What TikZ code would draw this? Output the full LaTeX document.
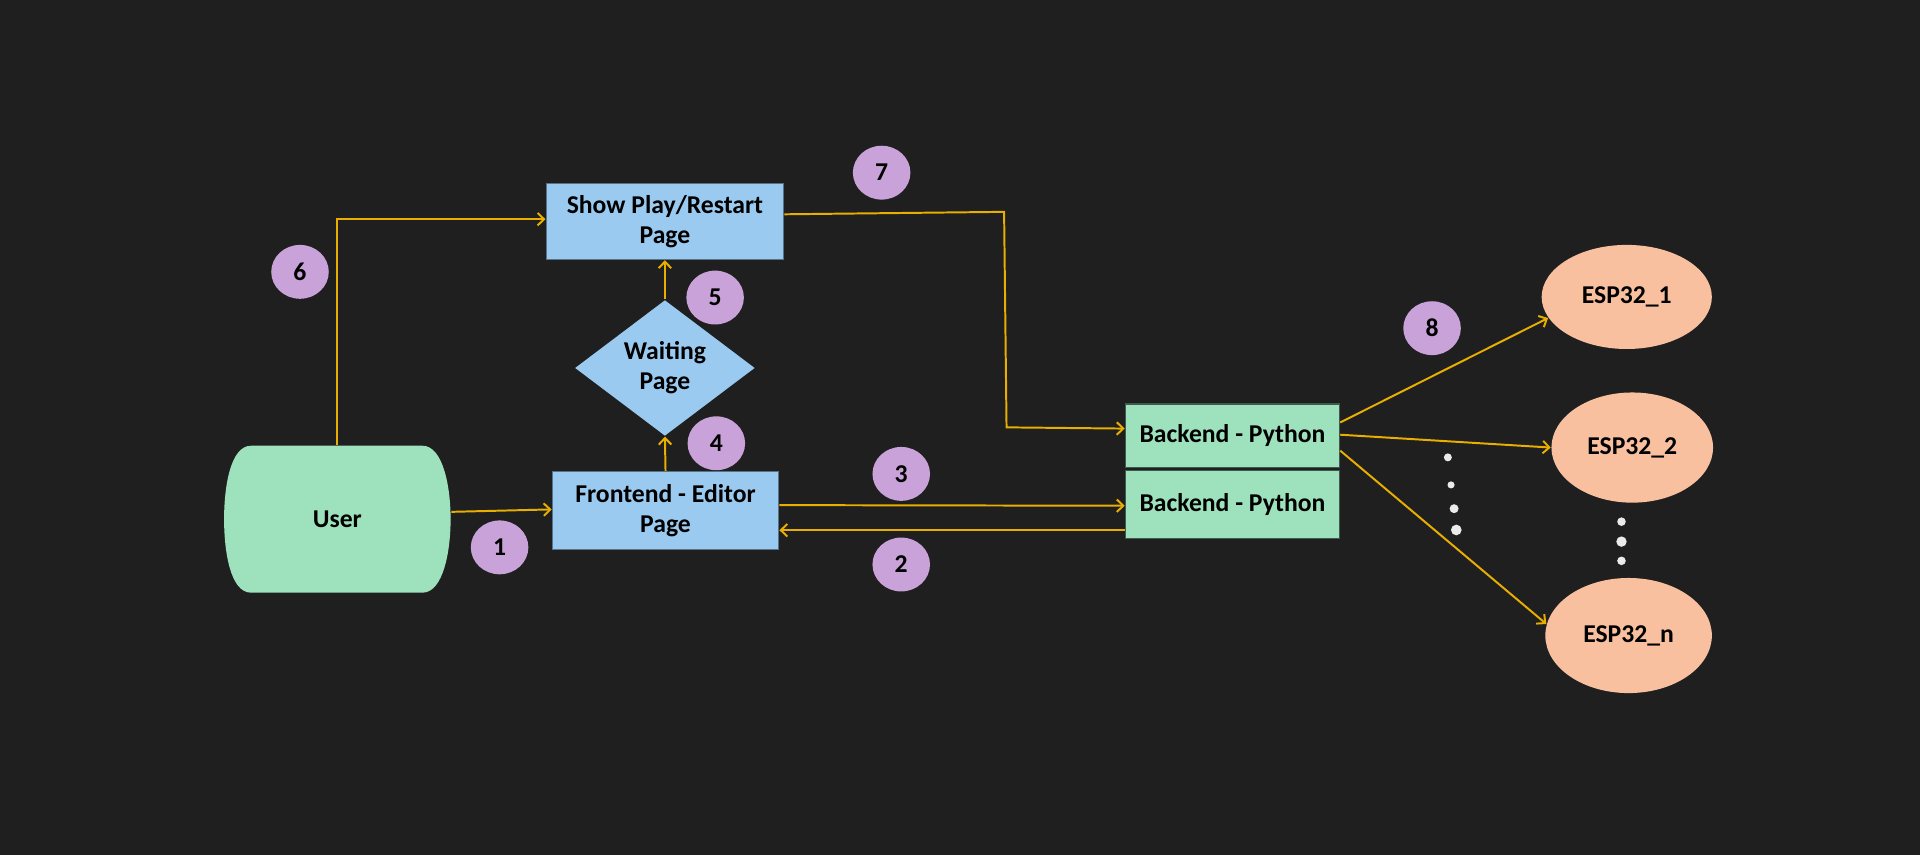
\documentclass[tikz,border=0pt]{standalone}
\usepackage{fontspec}
\setmainfont{Carlito}
\usetikzlibrary{shapes.geometric,arrows.meta}
\newlength\px
\setlength\px{0.012245cm}
\definecolor{bgc}{HTML}{1F1F1F}
\definecolor{bluebox}{HTML}{9ACAEF}
\definecolor{blueedge}{HTML}{56738A}
\definecolor{greenbox}{HTML}{9DE1BD}
\definecolor{greenedge}{HTML}{3E5A4C}
\definecolor{peach}{HTML}{F8C09F}
\definecolor{badgec}{HTML}{C8A2D8}
\definecolor{wire}{HTML}{E8AE00}
\tikzset{
  lbl/.style={font=\bfseries\fontsize{7.3}{8.6}\selectfont, text=black, align=center, inner sep=0pt},
  bluerect/.style={lbl, rectangle, fill=bluebox, draw=blueedge, line width=1\px},
  greenrect/.style={lbl, rectangle, fill=greenbox, draw=greenedge, line width=1\px},
  waitshape/.style={lbl, diamond, fill=bluebox, minimum width=147\px, minimum height=111\px},
  espshape/.style={lbl, ellipse, fill=peach},
  badge/.style={lbl, ellipse, fill=badgec, minimum width=47\px, minimum height=44\px},
  wirearrow/.style={draw=wire, line width=0.56pt, -{Straight Barb[length=0.065cm,width=0.125cm]}},
  dot/.style={circle, fill=white!92!black, inner sep=0pt}
}
\begin{document}
\begin{tikzpicture}[x=0.012245cm, y=-0.012245cm]
\fill[bgc] (0,0) rectangle (1568,698.2);
\useasboundingbox (0,0) rectangle (1568,698.2);

% User shape
\fill[greenbox] (205,364) -- (345,364) .. controls (362,364) and (368,398) .. (368,424)
  .. controls (368,450) and (362,484) .. (345,484) -- (205,484)
  .. controls (188,484) and (183,450) .. (183,424)
  .. controls (183,398) and (188,364) .. (205,364) -- cycle;
\node[lbl, minimum width=185\px, minimum height=120\px] (user) at (275.5,424) {User};

% Blue boxes
\node[bluerect, minimum width=194\px, minimum height=62\px] (show) at (543,181) {Show Play/Restart\\Page};
\node[waitshape] (wait) at (543,300.5) {Waiting\\Page};
\node[bluerect, minimum width=185\px, minimum height=64\px] (front) at (543.5,417) {Frontend - Editor\\Page};

% Backend boxes
\node[greenrect, minimum width=175\px, minimum height=52\px] (back1) at (1006.5,356) {Backend - Python};
\node[greenrect, minimum width=175\px, minimum height=56\px] (back2) at (1006.5,412) {Backend - Python};

% ESP32 ellipses
\node[espshape, minimum width=139\px, minimum height=85\px] (esp1) at (1328.5,242.5) {ESP32\_1};
\node[espshape, minimum width=132\px, minimum height=90\px] (esp2) at (1333,365.5) {ESP32\_2};
\node[espshape, minimum width=136\px, minimum height=94\px] (espn) at (1330,519) {ESP32\_n};

% badges
\node[badge] (b1) at (408,447) {1};
\node[badge] (b2) at (736,461) {2};
\node[badge] (b3) at (736,387) {3};
\node[badge] (b4) at (585,362) {4};
\node[badge] (b5) at (584,243) {5};
\node[badge] (b6) at (245,222) {6};
\node[badge] (b7) at (720,141) {7};
\node[badge] (b8) at (1169.5,268) {8};

% dots
\node[dot, minimum size=6.5\px] (d1) at (1182.4,373.5) {};
\node[dot, minimum size=5.8\px] (d2) at (1185,396) {};
\node[dot, minimum size=7.3\px] (d3) at (1187.5,415.4) {};
\node[dot, minimum size=8.7\px] (d4) at (1189.3,432.8) {};
\node[dot, minimum size=7\px] (d5) at (1324.2,426) {};
\node[dot, minimum size=8.5\px] (d6) at (1324.2,442.3) {};
\node[dot, minimum size=7\px] (d7) at (1324.2,458) {};

% connectors
\coordinate (c7a) at (820,173);
\coordinate (c7b) at (822,349);

\draw[wirearrow] ([yshift=6\px]user.east) -- ([yshift=1\px]front.west);
\draw[wirearrow] (user.north) |- ([yshift=2\px]show.west);
\draw[wirearrow] (front.north) -- (wait.south);
\draw[wirearrow] (wait.north) -- (show.south);
\draw[wirearrow] ([yshift=6\px]show.east) -- (c7a) -- (c7b) -- ([yshift=6\px]back1.west);
\draw[wirearrow] ([yshift=4.5\px]front.east) -- ([yshift=-1\px]back2.west);
\draw[wirearrow] ([yshift=-21\px]back2.west) -- ([yshift=-16\px]front.east);
\draw[wirearrow] ([yshift=11\px]back1.east) -- (esp1.195.5);
\draw[wirearrow] ([yshift=1\px]back1.east) -- (esp2.west);
\draw[wirearrow] ([yshift=-12\px]back1.east) -- (espn.172);
\end{tikzpicture}
\end{document}
